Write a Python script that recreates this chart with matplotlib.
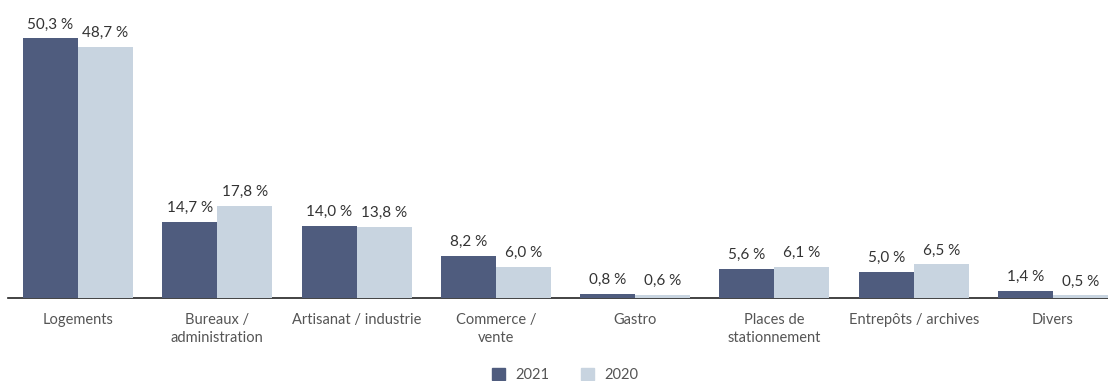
import numpy as np
import matplotlib.pyplot as plt
from matplotlib.patches import Patch

plt.rcParams['font.family'] = ['Lato', 'DejaVu Sans']

categories = ['Logements', 'Bureaux /\nadministration', 'Artisanat / industrie',
              'Commerce /\nvente', 'Gastro', 'Places de\nstationnement',
              'Entrepôts / archives', 'Divers']
val_2021 = [50.3, 14.7, 14.0, 8.2, 0.8, 5.6, 5.0, 1.4]
val_2020 = [48.7, 17.8, 13.8, 6.0, 0.6, 6.1, 6.5, 0.5]

c21 = '#4f5c7e'
c20 = '#c8d4e0'
txt = '#333333'

fig = plt.figure(figsize=(11.08, 3.81), dpi=100)
ax = fig.add_axes([8 / 1108, 83 / 381, 1100 / 1108, 298 / 381])

x = np.arange(len(categories))
w = 0.395
b1 = ax.bar(x - w / 2, val_2021, w, color=c21, zorder=3)
b2 = ax.bar(x + w / 2, val_2020, w, color=c20, zorder=3)

def fmt(v):
    return f'{v:.1f}'.replace('.', ',') + ' %'

for bars, vals in ((b1, val_2021), (b2, val_2020)):
    for r, v in zip(bars, vals):
        ax.annotate(fmt(v), (r.get_x() + r.get_width() / 2, v),
                    xytext=(0, 5), textcoords='offset points',
                    ha='center', va='bottom', fontsize=11, color=txt)

ax.set_xlim(-0.5025, 7.395)
ax.set_ylim(0, 57.75)
ax.set_xticks(x)
ax.set_xticklabels(categories, fontsize=10.5, color='#555555', linespacing=1.35)
ax.tick_params(axis='x', length=0, pad=11)
ax.set_yticks([])
for s in ('top', 'right', 'left'):
    ax.spines[s].set_visible(False)
ax.spines['bottom'].set_color('#222222')
ax.spines['bottom'].set_linewidth(1.2)
ax.spines['bottom'].set_zorder(2)

handles = [Patch(color=c21, label='2021'), Patch(color=c20, label='2020')]
fig.legend(handles=handles, loc='center', bbox_to_anchor=(565 / 1108, 1 - 375 / 381),
           ncol=2, frameon=False, fontsize=10.5, handlelength=0.9, handleheight=0.9,
           columnspacing=2.2, handletextpad=0.7, labelcolor='#555555')

fig.savefig('out.png', dpi=100)
